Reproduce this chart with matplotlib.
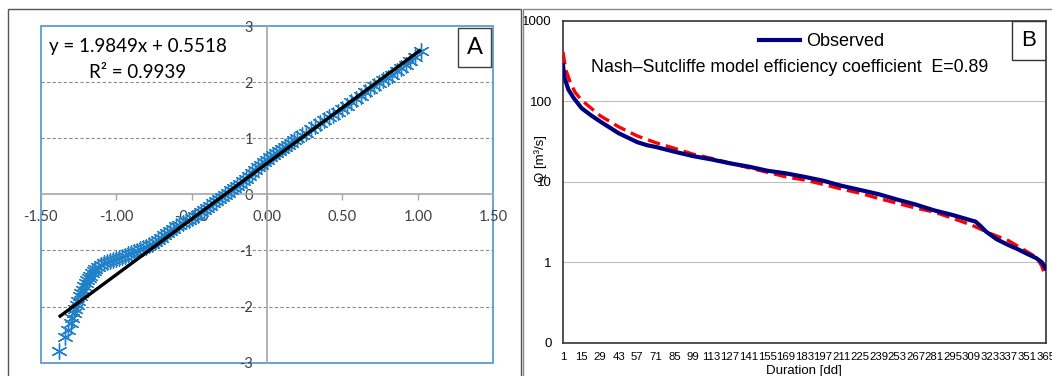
import numpy as np
import matplotlib.pyplot as plt
from matplotlib.patches import Rectangle
from matplotlib.ticker import FixedLocator, FixedFormatter

plt.rcParams['axes.unicode_minus'] = False

# ---- panel A: residual scatter + trend line
qq_x = [-1.38, -1.34, -1.32, -1.30, -1.29, -1.28, -1.27, -1.26, -1.25, -1.24,
        -1.23, -1.22, -1.21, -1.20, -1.19, -1.18, -1.17, -1.16, -1.15, -1.14,
        -1.12, -1.10, -1.08, -1.06, -1.04, -1.02, -1.00, -0.98, -0.96, -0.94,
        -0.92, -0.90, -0.88, -0.86, -0.84, -0.82, -0.80, -0.78, -0.76, -0.74,
        -0.72, -0.70, -0.68, -0.66, -0.64, -0.62, -0.60, -0.58, -0.56, -0.54,
        -0.52, -0.50, -0.48, -0.46, -0.44, -0.42, -0.40, -0.38, -0.36, -0.34,
        -0.32, -0.30, -0.28, -0.26, -0.24, -0.22, -0.20, -0.18, -0.16, -0.14,
        -0.12, -0.10, -0.08, -0.06, -0.04, -0.02, 0.00, 0.02, 0.04, 0.06,
        0.08, 0.10, 0.12, 0.14, 0.16, 0.18, 0.20, 0.23, 0.26, 0.29,
        0.32, 0.35, 0.38, 0.41, 0.44, 0.47, 0.50, 0.53, 0.56, 0.59,
        0.62, 0.65, 0.68, 0.71, 0.74, 0.77, 0.80, 0.83, 0.86, 0.89,
        0.92, 0.95, 0.98, 1.02]
qq_y = [-2.80, -2.55, -2.42, -2.30, -2.20, -2.12, -2.05, -1.97, -1.90, -1.82,
        -1.76, -1.70, -1.64, -1.58, -1.53, -1.49, -1.45, -1.41, -1.37, -1.33,
        -1.29, -1.26, -1.23, -1.21, -1.19, -1.17, -1.15, -1.13, -1.11, -1.09,
        -1.07, -1.05, -1.03, -1.01, -0.98, -0.96, -0.94, -0.91, -0.88, -0.85,
        -0.81, -0.77, -0.73, -0.69, -0.65, -0.61, -0.57, -0.54, -0.51, -0.48,
        -0.45, -0.42, -0.39, -0.36, -0.32, -0.28, -0.24, -0.20, -0.16, -0.12,
        -0.08, -0.05, -0.01, 0.03, 0.07, 0.11, 0.15, 0.19, 0.23, 0.28,
        0.33, 0.38, 0.43, 0.48, 0.53, 0.58, 0.62, 0.66, 0.70, 0.74,
        0.77, 0.80, 0.84, 0.88, 0.92, 0.96, 1.00, 1.05, 1.10, 1.16,
        1.22, 1.27, 1.32, 1.37, 1.42, 1.47, 1.52, 1.58, 1.64, 1.70,
        1.76, 1.82, 1.88, 1.93, 1.98, 2.03, 2.08, 2.13, 2.19, 2.25,
        2.31, 2.38, 2.45, 2.55]
slope, intercept = 1.9849, 0.5518
r2 = 0.9939

# ---- panel B: flow duration curve
obs_days = [1, 2, 5, 9, 15, 22, 29, 43, 57, 64, 71, 85, 99, 113, 127, 141, 155,
            169, 183, 197, 211, 225, 239, 253, 267, 281, 295, 309, 312, 316,
            320, 328, 337, 344, 351, 358, 362, 365]
obs_q = [280, 200, 140, 110, 82, 67, 56, 40, 31, 28.5, 27, 23.6, 20.8, 18.9,
         16.9, 15.4, 13.7, 12.7, 11.5, 10.3, 8.9, 7.9, 7.0, 6.0, 5.2, 4.4,
         3.85, 3.3, 3.2, 2.8, 2.4, 1.93, 1.63, 1.45, 1.27, 1.12, 1.0, 0.84]
sim_days = [1, 3, 6, 10, 15, 29, 43, 57, 71, 85, 99, 113, 127, 141, 155, 169,
            183, 197, 211, 225, 239, 253, 267, 281, 295, 309, 323, 337, 351,
            358, 362, 365]
sim_q = [410, 250, 180, 130, 103, 66, 48, 37, 30.5, 26, 22, 19.5, 17, 14.9,
         13.1, 11.5, 10.5, 9.3, 8.1, 7.2, 6.2, 5.4, 4.7, 4.2, 3.5, 2.9, 2.28,
         1.85, 1.35, 1.15, 0.9, 0.66]
day_ticks = list(range(1, 366, 14))
q_ticks = [0.1, 1, 10, 100, 1000]
q_labels = ['0', '1', '10', '100', '1000']

W, H = 1052, 376
fig = plt.figure(figsize=(W / 100, H / 100), dpi=100)


def px_box(x0, y0, x1, y1):
    return [x0 / W, 1 - y1 / H, (x1 - x0) / W, (y1 - y0) / H]


# outer panel frames
fig.patches.append(Rectangle((8 / W, -0.1), (521 - 8) / W, 1.1 - 9 / H,
                             transform=fig.transFigure, fill=False,
                             edgecolor='#555555', lw=1.0))
fig.patches.append(Rectangle((523 / W, -0.1), 0.6, 1.1 - 9 / H,
                             transform=fig.transFigure, fill=False,
                             edgecolor='#888888', lw=1.0))

# ================= panel A =================
fa = ['Lato', 'DejaVu Sans']
axA = fig.add_axes(px_box(40.7, 26, 493.3, 362.7))
axA.set_xlim(-1.5, 1.5)
axA.set_ylim(-3, 3)
for s in ['top', 'right']:
    axA.spines[s].set_visible(False)
for s in ['left', 'bottom']:
    axA.spines[s].set_position(('data', 0))
    axA.spines[s].set_color('#a6a6a6')
    axA.spines[s].set_linewidth(1.2)
axA.add_patch(Rectangle((0, 0), 1, 1, transform=axA.transAxes, fill=False,
                        edgecolor='#5b9bd5', lw=1.3, clip_on=False, zorder=1))
for gy in [-2, -1, 1, 2]:
    axA.axhline(gy, color='#8c8c8c', lw=0.8, dashes=(3, 2), zorder=0)

axA.scatter(qq_x, qq_y, marker=(6, 2, 0), s=125, color='#2080c8',
            linewidths=1.0, zorder=3)
tx = np.array([min(qq_x), max(qq_x)])
axA.plot(tx, slope * tx + intercept, color='black', lw=2.4,
         solid_capstyle='butt', zorder=4)

xt = [-1.5, -1.0, -0.5, 0.0, 0.5, 1.0, 1.5]
axA.set_xticks(xt)
axA.set_xticklabels(['%.2f' % v for v in xt])
axA.set_yticks([-3, -2, -1, 0, 1, 2, 3])
axA.tick_params(axis='x', direction='out', length=4, width=1, color='#a6a6a6',
                pad=7, labelsize=10.5, labelcolor='#404040')
axA.tick_params(axis='y', length=0, pad=10, labelsize=10.5, labelcolor='#404040')
for lab in axA.get_xticklabels() + axA.get_yticklabels():
    lab.set_family(fa)

axA.text(0.215, 0.938, 'y = %.4fx + %.4f' % (slope, intercept),
         transform=axA.transAxes, ha='center', va='center', fontsize=13.5,
         family=fa, color='black')
axA.text(0.215, 0.863, 'R² = %.4f' % r2, transform=axA.transAxes,
         ha='center', va='center', fontsize=13.5, family=fa, color='black')
axA.add_patch(Rectangle((0.922, 0.878), 0.073, 0.116, transform=axA.transAxes,
                        fill=False, edgecolor='#404040', lw=1.0, zorder=5))
axA.text(0.9585, 0.936, 'A', transform=axA.transAxes, ha='center',
         va='center', fontsize=17, family=fa)

# ================= panel B =================
fb = ['Liberation Sans', 'DejaVu Sans']
axB = fig.add_axes(px_box(563, 20.7, 1045.7, 342.7))
axB.set_yscale('log')
axB.set_xlim(1, 365)
axB.set_ylim(0.1, 1000)
for s in axB.spines.values():
    s.set_color('#333333')
    s.set_linewidth(1.2)
for gq in [1, 10, 100]:
    axB.axhline(gq, color='#bfbfbf', lw=0.8, zorder=0)

axB.plot(sim_days, sim_q, color='#ff0000', lw=2.4, dashes=(3.8, 1.8), zorder=3)
obs_line, = axB.plot(obs_days, obs_q, color='#000080', lw=3.0, zorder=4)

axB.yaxis.set_major_locator(FixedLocator(q_ticks))
axB.yaxis.set_major_formatter(FixedFormatter(q_labels))
axB.yaxis.set_minor_locator(FixedLocator([]))
axB.set_xticks(day_ticks)
axB.set_xticklabels([str(d) for d in day_ticks])
axB.tick_params(axis='x', length=0, pad=7, labelsize=8.2)
axB.tick_params(axis='y', length=0, pad=8, labelsize=9.5)
for lab in axB.get_xticklabels() + axB.get_yticklabels():
    lab.set_family(fb)
axB.set_xlabel('Duration [dd]', fontsize=9.5, family=fb, labelpad=2)

fig.text(540.5 / W, 1 - 158 / H, 'Q [m³/s]', rotation=90, ha='center',
         va='center', fontsize=9.5, family=fb)

axB.legend([obs_line], ['Observed'], loc='center',
           bbox_to_anchor=(0.535, 0.935), frameon=False,
           handlelength=2.3, handletextpad=0.3, borderpad=0.1,
           prop={'family': fb, 'size': 13})
axB.text(0.469, 0.854, 'Nash\u2013Sutcliffe model efficiency coefficient  E=0.89',
         transform=axB.transAxes, ha='center', va='center', fontsize=12.8,
         family=fb)
axB.add_patch(Rectangle((0.931, 0.879), 0.069, 0.121, transform=axB.transAxes,
                        fill=False, edgecolor='#333333', lw=1.0, zorder=5))
axB.text(0.9655, 0.937, 'B', transform=axB.transAxes, ha='center',
         va='center', fontsize=16, family=fb)

fig.savefig('out.png', dpi=100)
